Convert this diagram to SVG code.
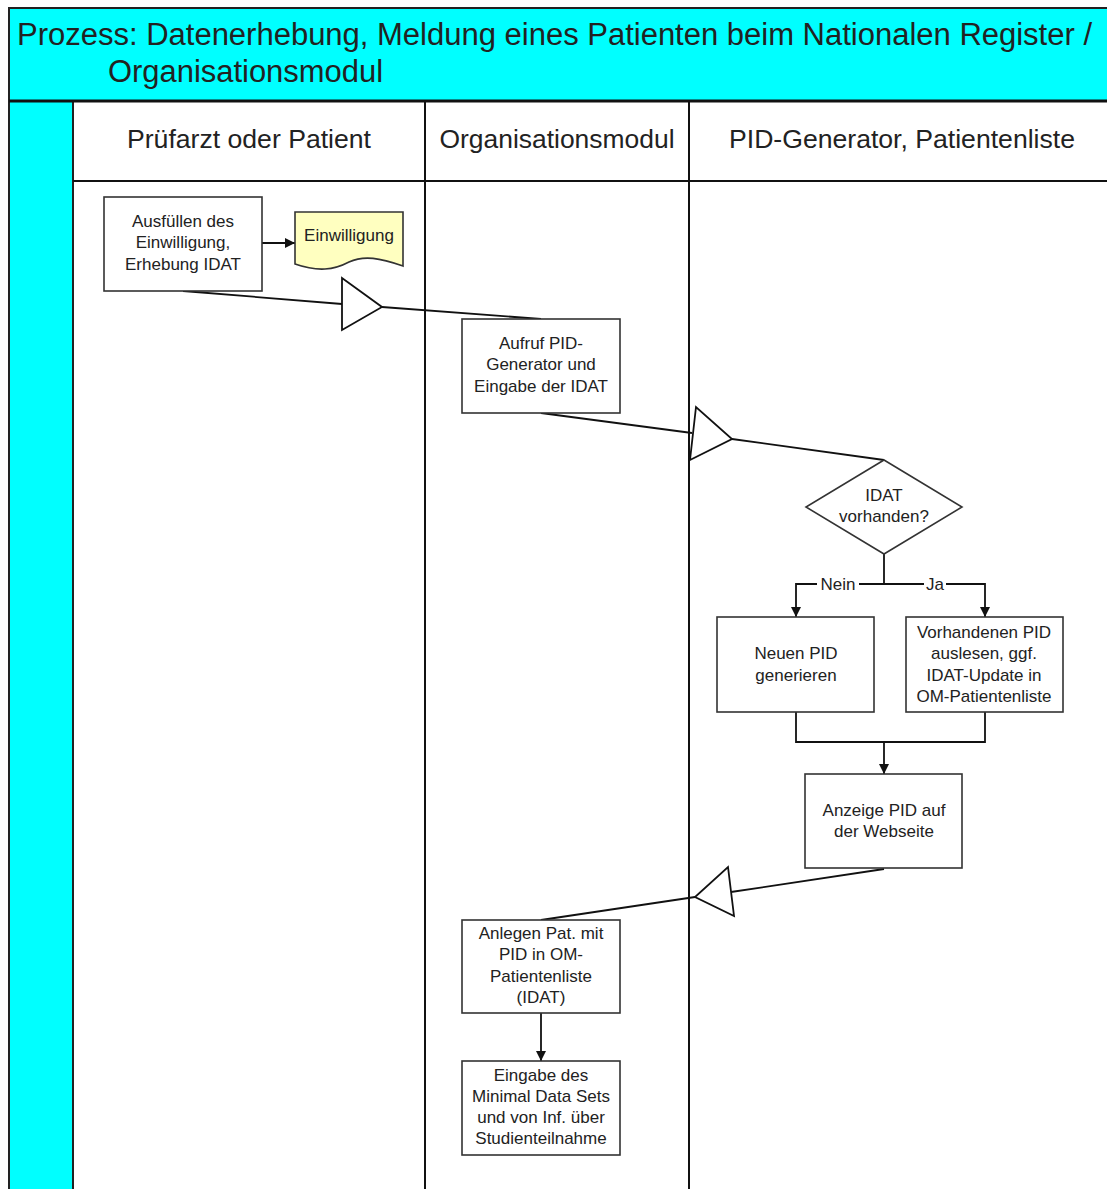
<svg xmlns="http://www.w3.org/2000/svg" width="1107" height="1189" viewBox="0 0 1107 1189">
<defs>
<style>
.t{font-family:"Liberation Sans",Arial,sans-serif;fill:#222;text-anchor:middle}
.bt{font-size:17px}
.box{fill:#fff;stroke:#333;stroke-width:1.6}
.ln{fill:none;stroke:#111;stroke-width:1.8}
.tri{fill:#fff;stroke:#111;stroke-width:1.8;stroke-linejoin:miter}
.lane{stroke:#111;stroke-width:2}
</style>
<marker id="ah" viewBox="0 0 10 10" refX="10" refY="5" markerWidth="10" markerHeight="10" markerUnits="userSpaceOnUse" orient="auto">
<path d="M0,0 L10,5 L0,10 Z" fill="#111"/>
</marker>
</defs>
<rect x="0" y="0" width="1107" height="1189" fill="#fff"/>
<g id="pool">
<rect x="9" y="8" width="1100" height="93" fill="#00FFFF" stroke="#222" stroke-width="2"/>
<rect x="9" y="101" width="64" height="1090" fill="#00FFFF" stroke="#222" stroke-width="2"/>
<line x1="9" y1="101" x2="1107" y2="101" stroke="#111" stroke-width="3"/>
<text class="t" x="17" y="45" font-size="31" style="text-anchor:start" textLength="1075" lengthAdjust="spacingAndGlyphs">Prozess: Datenerhebung, Meldung eines Patienten beim Nationalen Register /</text>
<text class="t" x="108" y="82" font-size="31" style="text-anchor:start" textLength="275" lengthAdjust="spacingAndGlyphs">Organisationsmodul</text>
</g>
<g id="lanes">
<line class="lane" x1="73" y1="181" x2="1107" y2="181"/>
<line class="lane" x1="425" y1="101" x2="425" y2="1189"/>
<line class="lane" x1="689" y1="101" x2="689" y2="1189"/>
<text class="t" x="249" y="148" font-size="26" textLength="244" lengthAdjust="spacingAndGlyphs">Prüfarzt oder Patient</text>
<text class="t" x="557" y="148" font-size="26" textLength="235" lengthAdjust="spacingAndGlyphs">Organisationsmodul</text>
<text class="t" x="902" y="148" font-size="26" textLength="346" lengthAdjust="spacingAndGlyphs">PID-Generator, Patientenliste</text>
</g>
<g id="connectors">
<line class="ln" x1="262" y1="243" x2="295" y2="243" marker-end="url(#ah)"/>
<polyline class="ln" points="183,291 342,304"/>
<polyline class="ln" points="382,307 541,319"/>
<polyline class="ln" points="541,413 692,433"/>
<polyline class="ln" points="732,439 884,460"/>
<polyline class="ln" points="884,554 884,584"/>
<polyline class="ln" points="884,584 796,584 796,617" marker-end="url(#ah)"/>
<polyline class="ln" points="884,584 985,584 985,617" marker-end="url(#ah)"/>
<polyline class="ln" points="796,712 796,742 985,742 985,712"/>
<line class="ln" x1="884" y1="742" x2="884" y2="774" marker-end="url(#ah)"/>
<polyline class="ln" points="884,869 731,892"/>
<polyline class="ln" points="695,897 541,920"/>
<line class="ln" x1="541" y1="1013" x2="541" y2="1061" marker-end="url(#ah)"/>
<polygon class="tri" points="342,278 342,330 382,307"/>
<polygon class="tri" points="696,407 690,460 732,439"/>
<polygon class="tri" points="728,867 734,916 695,897"/>
<rect x="817" y="575" width="42" height="18" fill="#fff"/>
<rect x="924" y="575" width="22" height="18" fill="#fff"/>
<text class="t bt" x="838" y="590">Nein</text>
<text class="t bt" x="935" y="590">Ja</text>
</g>
<g id="n1">
<rect class="box" x="104" y="197" width="158" height="94"/>
<text class="t bt" x="183" y="227">Ausfüllen des</text>
<text class="t bt" x="183" y="248">Einwilligung,</text>
<text class="t bt" x="183" y="270">Erhebung IDAT</text>
</g>
<g id="n2">
<path d="M295,212 H403 V266 C380,258 364,255 349,262 C334,270 318,272 295,264 Z" fill="#FFFFC0" stroke="#333" stroke-width="1.6"/>
<text class="t bt" x="349" y="241">Einwilligung</text>
</g>
<g id="n3">
<rect class="box" x="462" y="319" width="158" height="94"/>
<text class="t bt" x="541" y="349">Aufruf PID-</text>
<text class="t bt" x="541" y="370">Generator und</text>
<text class="t bt" x="541" y="392">Eingabe der IDAT</text>
</g>
<g id="n4">
<polygon points="884,460 962,507 884,554 806,507" fill="#fff" stroke="#333" stroke-width="1.6"/>
<text class="t bt" x="884" y="501">IDAT</text>
<text class="t bt" x="884" y="522">vorhanden?</text>
</g>
<g id="n5">
<rect class="box" x="717" y="617" width="157" height="95"/>
<text class="t bt" x="796" y="659">Neuen PID</text>
<text class="t bt" x="796" y="681">generieren</text>
</g>
<g id="n6">
<rect class="box" x="906" y="617" width="157" height="95"/>
<text class="t bt" x="984" y="638">Vorhandenen PID</text>
<text class="t bt" x="984" y="659">auslesen, ggf.</text>
<text class="t bt" x="984" y="681">IDAT-Update in</text>
<text class="t bt" x="984" y="702">OM-Patientenliste</text>
</g>
<g id="n7">
<rect class="box" x="805" y="774" width="157" height="94"/>
<text class="t bt" x="884" y="816">Anzeige PID auf</text>
<text class="t bt" x="884" y="837">der Webseite</text>
</g>
<g id="n8">
<rect class="box" x="462" y="920" width="158" height="93"/>
<text class="t bt" x="541" y="939">Anlegen Pat. mit</text>
<text class="t bt" x="541" y="960">PID in OM-</text>
<text class="t bt" x="541" y="982">Patientenliste</text>
<text class="t bt" x="541" y="1003">(IDAT)</text>
</g>
<g id="n9">
<rect class="box" x="462" y="1061" width="158" height="94"/>
<text class="t bt" x="541" y="1081">Eingabe des</text>
<text class="t bt" x="541" y="1102">Minimal Data Sets</text>
<text class="t bt" x="541" y="1123">und von Inf. über</text>
<text class="t bt" x="541" y="1144">Studienteilnahme</text>
</g>
</svg>
